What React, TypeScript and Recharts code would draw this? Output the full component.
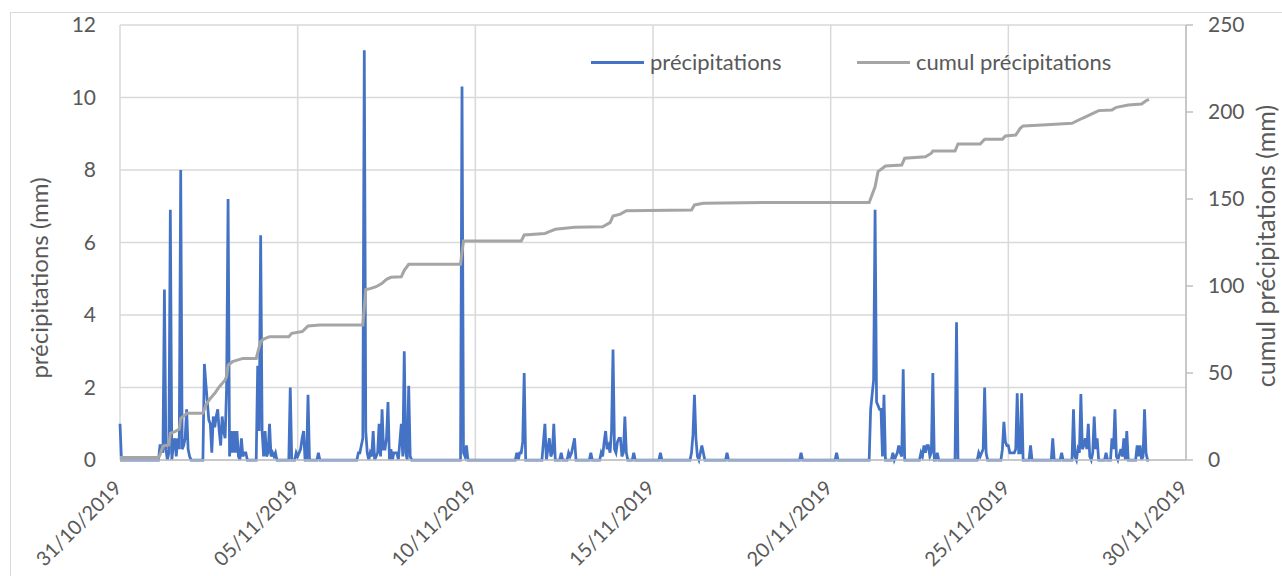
import { CartesianGrid, ComposedChart, Legend, Line, XAxis, YAxis } from "recharts";

// hours since 31/10/2019 00:00
const xTickHours = [0, 120, 240, 360, 480, 600, 720];
const xTickLabels = [
  "31/10/2019",
  "05/11/2019",
  "10/11/2019",
  "15/11/2019",
  "20/11/2019",
  "25/11/2019",
  "30/11/2019",
];
const leftTicks = [0, 2, 4, 6, 8, 10, 12];
const rightTicks = [0, 50, 100, 150, 200, 250];

const seriesNames = ["précipitations", "cumul précipitations"];
const seriesColors = ["#4472C4", "#A5A5A5"];

// [hour, mm]
const precipitations: [number, number][] = [
  [0, 1.0], [1, 0], [26, 0], [27, 0.4], [28, 0.4], [29, 0.2], [30, 4.7], [31, 0.3], [32, 0], [33, 0.2],
  [34, 6.9], [35, 0], [36, 0.4], [37, 0.6], [38, 0.1], [39, 0.6], [40, 0.3], [41, 8.0], [42, 0.3], [43, 0.4],
  [44, 0.6], [45, 1.4], [46, 0.3], [47, 0.1], [48, 0],
  [56, 0], [57, 2.65], [58, 2.1], [59, 1.6], [60, 1.1], [61, 1.0], [62, 0.2], [63, 1.2], [64, 0.9], [65, 1.2],
  [66, 1.4], [67, 0.8], [68, 0.4], [69, 1.2], [70, 0.8], [71, 0.6], [72, 2.0], [73, 7.2], [74, 0.1], [75, 0.8],
  [76, 0.2], [77, 0.8], [78, 0.2], [79, 0.8], [80, 0.1], [81, 0], [82, 0.6], [83, 0.1], [84, 0.2], [85, 0.2], [86, 0],
  [92, 0], [93, 2.6], [94, 0.8], [95, 6.2], [96, 0.8], [97, 0.1], [98, 0.8], [99, 0.1], [100, 0.2], [101, 1.0],
  [102, 0.1], [103, 0.2], [104, 0.1], [105, 0.2], [106, 0],
  [114, 0], [115, 2.0], [116, 0], [118, 0], [119, 0.2], [120, 0.1], [121, 0.2], [122, 0.3], [123, 0.6], [124, 0.8],
  [125, 0], [126, 0], [127, 1.8], [128, 0], [133, 0], [134, 0.2], [135, 0],
  [160, 0], [161, 0.2], [162, 0.2], [163, 0.4], [164, 0.6], [165, 11.3], [166, 0.8], [167, 0.2], [168, 0], [169, 0.2],
  [170, 0.1], [171, 0.8], [172, 0], [173, 0.1], [174, 0.2], [175, 1.0], [176, 0.1], [177, 1.4], [178, 0.3], [179, 0.3],
  [180, 0.6], [181, 1.6], [182, 0], [183, 0.3], [184, 0], [185, 0.2], [186, 0.2], [187, 0.2], [188, 0], [189, 0.5],
  [190, 1.0], [191, 0.1], [192, 3.0], [193, 0.2], [194, 0], [195, 2.05], [196, 0.1], [197, 0],
  [230, 0], [231, 10.3], [232, 0.2], [233, 0.1], [234, 0.4], [235, 0],
  [267, 0], [268, 0.2], [269, 0], [270, 0.2], [271, 0.2], [272, 0.5], [273, 2.4], [274, 0],
  [285, 0], [287, 1.0], [288, 0], [290, 0.6], [291, 0.1], [292, 0.2], [293, 1.0], [294, 0], [297, 0], [298, 0.2],
  [299, 0], [302, 0], [303, 0.2], [304, 0.1], [305, 0.2], [307, 0.6], [308, 0],
  [317, 0], [318, 0.2], [319, 0], [324, 0], [325, 0.2], [326, 0.1], [327, 0.5], [328, 0.8], [329, 0.3], [330, 0.4],
  [331, 0.2], [332, 0.8], [333, 3.05], [334, 0.3], [335, 0.2], [336, 0.5], [337, 0.6], [338, 0.6], [339, 0.1],
  [340, 0.2], [341, 1.2], [342, 0.2], [343, 0], [346, 0], [347, 0.2], [348, 0],
  [364, 0], [365, 0.2], [366, 0], [385, 0], [386, 0.2], [387, 0.7], [388, 1.8], [389, 0.6], [390, 0.1], [391, 0],
  [392, 0.2], [393, 0.4], [394, 0.2], [395, 0], [409, 0], [410, 0.2], [411, 0],
  [459, 0], [460, 0.2], [461, 0], [483, 0], [484, 0.2], [485, 0],
  [506, 0], [507, 1.4], [508, 1.8], [509, 2.2], [510, 6.9], [511, 1.6], [512, 1.5], [513, 1.4], [514, 1.4],
  [515, 0.1], [516, 1.8], [517, 0],
  [521, 0], [522, 0.2], [523, 0], [525, 0.2], [526, 0.4], [527, 0.2], [528, 0.1], [529, 2.5], [530, 0],
  [540, 0], [541, 0.2], [542, 0.1], [543, 0.4], [544, 0.2], [545, 0.4], [546, 0.4], [547, 0.1], [548, 0.2],
  [549, 2.4], [550, 0], [551, 0], [552, 0.2], [553, 0],
  [564, 0], [565, 3.8], [566, 0],
  [579, 0], [580, 0.2], [581, 0.1], [582, 0.2], [583, 0.3], [584, 2.0], [585, 0.2], [586, 0],
  [595, 0], [596, 0.3], [597, 1.05], [598, 0.5], [599, 0.4], [600, 0.4], [601, 0.2], [602, 0.2], [603, 0.2],
  [604, 0.2], [605, 0.3], [606, 1.84], [607, 0.2], [608, 0.2], [609, 1.84], [610, 0],
  [614, 0], [615, 0.4], [616, 0], [629, 0], [630, 0.6], [631, 0], [635, 0], [636, 0.2], [637, 0],
  [643, 0], [644, 1.4], [645, 0.1], [646, 0], [647, 0.3], [648, 0.2], [649, 1.82], [650, 0.3], [651, 0.4],
  [652, 0.6], [653, 0.3], [654, 1.0], [655, 0.1], [656, 0], [657, 0.2], [658, 1.2], [659, 0.3], [660, 0.6], [661, 0],
  [665, 0], [666, 0.2], [667, 0], [669, 0], [670, 0.6], [671, 0.3], [672, 1.4], [673, 0.1], [674, 0], [676, 0.3],
  [677, 0.1], [678, 0.6], [679, 0], [680, 0.8], [681, 0], [686, 0], [687, 0.4], [688, 0.1], [689, 0.4], [690, 0],
  [691, 0.1], [692, 1.4], [693, 0.2], [694, 0], [695, 0],
];

// [hour, mm]
const cumulPrecipitations: [number, number][] = [
  [0, 1.5], [26, 1.5], [27, 3], [29, 8], [33, 8.6], [34, 15.3], [37, 16.3], [40, 17.6], [41, 24], [44, 25.9],
  [45, 26.8], [56, 26.8], [58, 31.6], [61, 35.4], [64, 38.3], [67, 42], [71, 46], [72, 47.9], [73, 54.6], [76, 56.5],
  [83, 58.4], [92, 58.4], [95, 68], [97, 69.5], [101, 70.9], [114, 70.9], [116, 72.8], [123, 73.8], [124, 74.5],
  [127, 77], [135, 77.6], [164, 77.6], [166, 98], [169, 98.5], [173, 99.6], [177, 101.5], [180, 103.8], [183, 105],
  [190, 105.3], [192, 109], [195, 112.5], [230, 112.5], [232, 125.9], [271, 125.9], [273, 129.3], [287, 130.2],
  [290, 131.2], [294, 132.6], [307, 133.7], [326, 134], [331, 136.4], [333, 140.2], [338, 141.3], [342, 143.3],
  [386, 143.7], [388, 146.6], [394, 147.5], [439, 148], [506, 148], [510, 157], [512, 165.7], [517, 169],
  [528, 169.5], [530, 173.4], [544, 174.3], [548, 176.3], [549, 177.6], [564, 177.6], [566, 181.6], [581, 181.6],
  [584, 184.3], [596, 184.3], [598, 186.2], [605, 186.8], [608, 190.6], [610, 192], [623, 192.5], [643, 193.5],
  [650, 196.4], [655, 198.3], [661, 200.8], [670, 201.2], [673, 202.7], [681, 204], [690, 204.6], [693, 206.5],
  [695, 207.3],
];

const FONT = "Lato, Carlito, Calibri, sans-serif";
const TEXT = "#595959";

const precipData = precipitations.map(([h, v]) => ({ h, v }));
const cumulData = cumulPrecipitations.map(([h, v]) => ({ h, v }));

function DateTick({ x, y, payload }: any) {
  const label = xTickLabels[xTickHours.indexOf(payload.value)] ?? "";
  const px = x + 3;
  return (
    <text
      x={px}
      y={y}
      transform={`rotate(-45 ${px} ${y})`}
      textAnchor="end"
      fill={TEXT}
      fontSize={20}
      fontFamily={FONT}
    >
      {label}
    </text>
  );
}

function AxisTitle({ bx, cy, size, text }: { bx: number; cy: number; size: number; text: string }) {
  return (
    <text
      x={0}
      y={0}
      transform={`translate(${bx} ${cy}) rotate(-90)`}
      textAnchor="middle"
      fill={TEXT}
      fontSize={size}
      fontFamily={FONT}
    >
      {text}
    </text>
  );
}

function ChartLegend() {
  return (
    <div
      style={{
        display: "flex",
        alignItems: "center",
        fontFamily: FONT,
        fontSize: 22,
        lineHeight: "26px",
        color: TEXT,
        whiteSpace: "nowrap",
      }}
    >
      {seriesNames.map((name, i) => (
        <div
          key={name}
          style={{ display: "flex", alignItems: "center", width: i === 0 ? 266 : undefined }}
        >
          <span
            style={{
              display: "inline-block",
              width: 53,
              height: 3,
              background: seriesColors[i],
              marginRight: 6,
            }}
          />
          <span>{name}</span>
        </div>
      ))}
    </div>
  );
}

export default function App() {
  const tickStyle = { fill: TEXT, fontSize: 21, fontFamily: FONT };

  return (
    <div
      style={{
        position: "fixed",
        left: 0,
        top: 0,
        width: 1282,
        height: 576,
        overflow: "hidden",
        background: "#fff",
      }}
    >
      <div
        style={{
          position: "absolute",
          left: 10,
          top: 12,
          width: 1300,
          height: 620,
          border: "1px solid #D9D9D9",
        }}
      />
      <div style={{ position: "absolute", left: 0, top: 0 }}>
        <ComposedChart
          width={1282}
          height={576}
          margin={{ top: 25, right: 0, bottom: 0, left: 0 }}
        >
          <CartesianGrid yAxisId="left" stroke="#D9D9D9" strokeWidth={1.5} />
          <XAxis
            dataKey="h"
            type="number"
            domain={[0, 720]}
            ticks={xTickHours}
            height={116}
            axisLine={{ stroke: "#BFBFBF", strokeWidth: 1.5 }}
            tickLine={false}
            tickSize={0}
            tickMargin={29}
            tick={<DateTick />}
            interval={0}
          />
          <YAxis
            yAxisId="left"
            orientation="left"
            domain={[0, 12]}
            ticks={leftTicks}
            width={120}
            axisLine={false}
            tickLine={false}
            tickSize={6}
            tickMargin={18}
            tick={tickStyle}
            interval={0}
            label={{
              content: () => (
                <AxisTitle bx={48} cy={278} size={24} text="précipitations (mm)" />
              ),
            }}
          />
          <YAxis
            yAxisId="right"
            orientation="right"
            domain={[0, 250]}
            ticks={rightTicks}
            width={96}
            axisLine={{ stroke: "#BFBFBF", strokeWidth: 1.5 }}
            tickLine={{ stroke: "#BFBFBF", strokeWidth: 1.5 }}
            tickSize={7}
            tickMargin={15}
            tick={tickStyle}
            interval={0}
            label={{
              content: () => (
                <AxisTitle bx={1275} cy={246} size={25} text="cumul précipitations (mm)" />
              ),
            }}
          />
          <Legend
            layout="horizontal"
            verticalAlign="middle"
            align="center"
            wrapperStyle={{ top: 49, left: 591, width: 600 }}
            content={() => <ChartLegend />}
          />
          <Line
            yAxisId="left"
            data={precipData}
            dataKey="v"
            name={seriesNames[0]}
            type="linear"
            stroke={seriesColors[0]}
            strokeWidth={2.75}
            dot={false}
            activeDot={false}
            isAnimationActive={false}
          />
          <Line
            yAxisId="right"
            data={cumulData}
            dataKey="v"
            name={seriesNames[1]}
            type="linear"
            stroke={seriesColors[1]}
            strokeWidth={3}
            dot={false}
            activeDot={false}
            isAnimationActive={false}
          />
        </ComposedChart>
      </div>
    </div>
  );
}
